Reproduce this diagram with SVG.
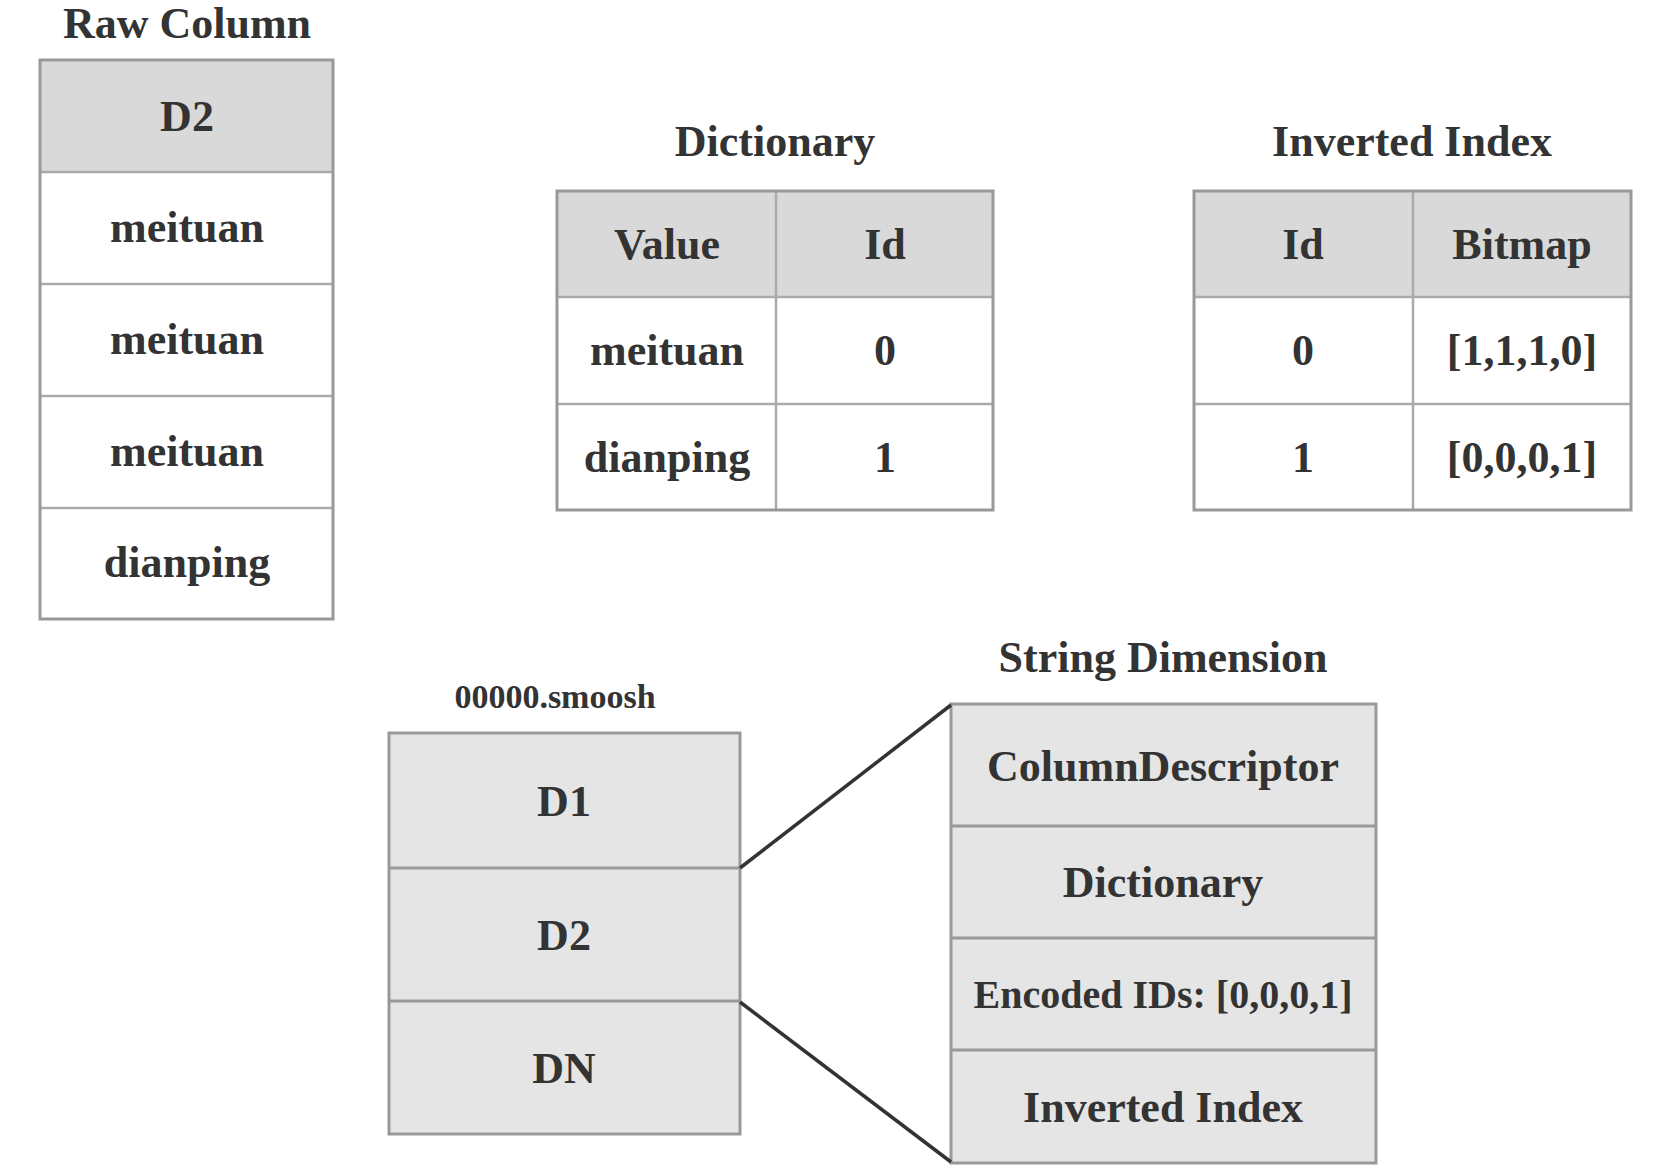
<svg xmlns="http://www.w3.org/2000/svg" width="1656" height="1176" viewBox="0 0 1656 1176">
<style>
text{font-family:"Liberation Serif","Times New Roman",serif;font-weight:bold;fill:#333;text-anchor:middle}
.t{font-size:44px}
.s{font-size:34px}
.e{font-size:40px}
.hdr{fill:#d9d9d9}
.box{fill:none;stroke:#999;stroke-width:3}
.div{stroke:#aaa;stroke-width:2.5;fill:none}
.blk{fill:#e5e5e5;stroke:#999;stroke-width:3}
.conn{stroke:#333;stroke-width:3.5;fill:none}
</style>
<rect width="1656" height="1176" fill="#fff"/>

<g id="raw-column">
<text class="t" x="187" y="38">Raw Column</text>
<rect class="hdr" x="40" y="60" width="293" height="112"/>
<path class="div" d="M40 172H333M40 284H333M40 396H333M40 508H333"/>
<rect class="box" x="40" y="60" width="293" height="559"/>
<text class="t" x="187" y="131">D2</text>
<text class="t" x="187" y="242">meituan</text>
<text class="t" x="187" y="354">meituan</text>
<text class="t" x="187" y="466">meituan</text>
<text class="t" x="187" y="577">dianping</text>
</g>

<g id="dictionary">
<text class="t" x="775" y="156">Dictionary</text>
<rect class="hdr" x="557" y="191" width="436" height="106"/>
<path class="div" d="M557 297H993M557 404H993M776 191V510"/>
<rect class="box" x="557" y="191" width="436" height="319"/>
<text class="t" x="667" y="259">Value</text>
<text class="t" x="885" y="259">Id</text>
<text class="t" x="667" y="365">meituan</text>
<text class="t" x="885" y="365">0</text>
<text class="t" x="667" y="472">dianping</text>
<text class="t" x="885" y="472">1</text>
</g>

<g id="inverted-index">
<text class="t" x="1412" y="156">Inverted Index</text>
<rect class="hdr" x="1194" y="191" width="437" height="106"/>
<path class="div" d="M1194 297H1631M1194 404H1631M1413 191V510"/>
<rect class="box" x="1194" y="191" width="437" height="319"/>
<text class="t" x="1303" y="259">Id</text>
<text class="t" x="1522" y="259">Bitmap</text>
<text class="t" x="1303" y="365">0</text>
<text class="t" x="1522" y="365">[1,1,1,0]</text>
<text class="t" x="1303" y="472">1</text>
<text class="t" x="1522" y="472">[0,0,0,1]</text>
</g>

<g id="smoosh">
<text class="s" x="555" y="708">00000.smoosh</text>
<rect class="blk" x="389" y="733" width="351" height="401"/>
<path class="box" d="M389 868H740M389 1001H740"/>
<text class="t" x="564" y="816">D1</text>
<text class="t" x="564" y="950">D2</text>
<text class="t" x="564" y="1083">DN</text>
</g>

<g id="string-dimension">
<text class="t" x="1163" y="672">String Dimension</text>
<rect class="blk" x="951" y="704" width="425" height="459"/>
<path class="box" d="M951 826H1376M951 938H1376M951 1050H1376"/>
<text class="t" x="1163" y="781">ColumnDescriptor</text>
<text class="t" x="1163" y="897">Dictionary</text>
<text class="e" x="1163" y="1008">Encoded IDs: [0,0,0,1]</text>
<text class="t" x="1163" y="1122">Inverted Index</text>
</g>

<g id="connectors">
<line class="conn" x1="740" y1="868" x2="951" y2="705"/>
<line class="conn" x1="740" y1="1002" x2="951" y2="1162"/>
</g>
</svg>
